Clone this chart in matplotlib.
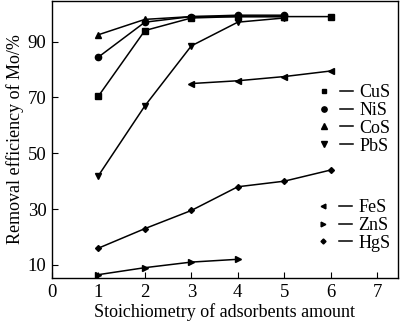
import matplotlib
matplotlib.use("Agg")
import matplotlib.pyplot as plt
from matplotlib.lines import Line2D
from matplotlib.legend_handler import HandlerTuple

plt.rcParams["font.family"] = ["Liberation Serif", "DejaVu Serif"]
plt.rcParams["font.size"] = 13

# values
x_cus = [1, 2, 3, 4, 5, 6]
y_cus = [70.5, 94, 98.5, 99, 99, 99]
x_nis = [1, 2, 3, 4, 5]
y_nis = [84.5, 97, 99, 99.5, 99.5]
x_cos = [1, 2, 3, 4, 5]
y_cos = [92.5, 98, 99, 99, 99]
x_pbs = [1, 2, 3, 4, 5]
y_pbs = [42, 67, 88.5, 97, 98.5]
x_fes = [3, 4, 5, 6]
y_fes = [75, 76, 77.5, 79.5]
x_zns = [1, 2, 3, 4]
y_zns = [6.5, 9, 11, 12]
x_hgs = [1, 2, 3, 4, 5, 6]
y_hgs = [16, 23, 29.5, 38, 40, 44]

series = [
    ("CuS", x_cus, y_cus, "s", 4),
    ("NiS", x_nis, y_nis, "o", 4.5),
    ("CoS", x_cos, y_cos, "^", 4.5),
    ("PbS", x_pbs, y_pbs, "v", 4.5),
    ("FeS", x_fes, y_fes, "<", 4),
    ("ZnS", x_zns, y_zns, ">", 4),
    ("HgS", x_hgs, y_hgs, "D", 3),
]

fig = plt.figure(figsize=(4.0, 3.24), dpi=100)
ax = fig.add_axes([0.13, 0.142, 0.865, 0.855])

handles = []
for name, xs, ys, mk, ms in series:
    ax.plot(xs, ys, color="black", lw=1.1, marker=mk, ms=ms, mfc="black", mec="black")
    h_mark = Line2D([], [], ls="none", marker=mk, ms=ms * 0.85, color="black")
    h_line = Line2D([], [], ls="-", lw=1.1, color="black")
    handles.append((name, (h_mark, h_line)))

ax.set_xlim(0, 7.45)
ax.set_ylim(5.3, 104.6)
ax.set_xticks(range(0, 8))
ax.set_yticks([10, 30, 50, 70, 90])
ax.tick_params(direction="in", length=4, width=0.8, labelsize=13.5, pad=4)
for sp in ax.spines.values():
    sp.set_linewidth(1.0)

ax.set_xlabel("Stoichiometry of adsorbents amount", fontsize=13, labelpad=2)
ax.set_ylabel("Removal efficiency of Mo/%", fontsize=13, labelpad=3)

hmap = {tuple: HandlerTuple(ndivide=None, pad=0.5)}
leg_kw = dict(handler_map=hmap, loc="upper right", frameon=False, fontsize=13,
              handlelength=2.0, handletextpad=0.35, labelspacing=0.04,
              borderpad=0.2, borderaxespad=0.2)
leg1 = ax.legend([h for _, h in handles[:4]], [n for n, _ in handles[:4]],
                 bbox_to_anchor=(1.0, 0.725), **leg_kw)
ax.add_artist(leg1)
ax.legend([h for _, h in handles[4:]], [n for n, _ in handles[4:]],
          bbox_to_anchor=(1.0, 0.31), **leg_kw)

fig.savefig("out.png", dpi=100)
